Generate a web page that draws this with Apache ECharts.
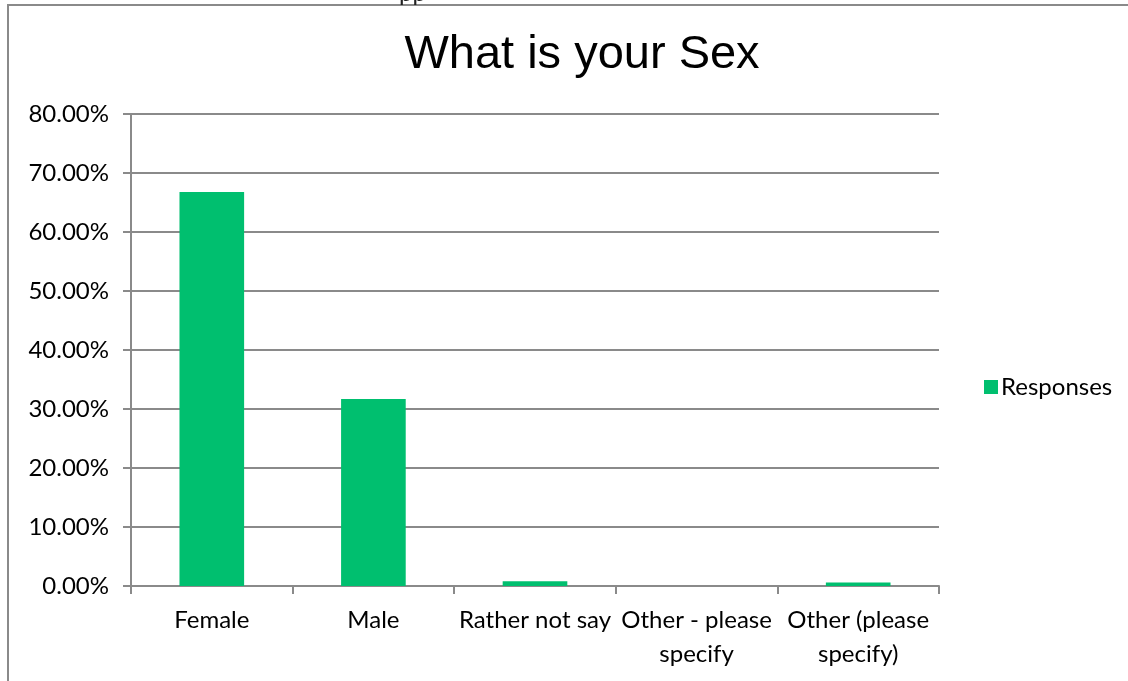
<!DOCTYPE html>
<html>
<head>
<meta charset="utf-8">
<script src="https://cdn.jsdelivr.net/npm/echarts@6/dist/echarts.min.js"></script>
<style>
html,body{margin:0;padding:0;background:#fff;}
#c{width:1128px;height:681px;}
</style>
</head>
<body>
<div id="c"></div>
<script>
const titleText = 'What is your Sex';
const seriesName = 'Responses';
const categories = ['Female', 'Male', 'Rather not say', 'Other - please specify', 'Other (please specify)'];
const values = [66.8, 31.7, 0.8, 0, 0.6];
const yTicks = { min: 0, max: 80, interval: 10 };

const chart = echarts.init(document.getElementById('c'), null, { renderer: 'canvas' });
const gray = '#8a8a8a';
const labelFont = 24;
chart.setOption({
  backgroundColor: '#fff',
  animation: false,
  title: {
    text: titleText,
    left: 577, top: 27, textAlign: 'center',
    textStyle: { fontFamily: 'Liberation Sans', fontSize: 47, fontWeight: 'normal', color: '#000' }
  },
  legend: {
    data: [seriesName],
    left: 979, top: 370,
    itemWidth: 14, itemHeight: 14, itemGap: 8,
    icon: 'rect',
    textStyle: { fontFamily: 'Lato', fontSize: labelFont, color: '#000', padding: [0, 0, 0, -2] }
  },
  graphic: [
    { type: 'rect', shape: { x: 8, y: 5, width: 1200, height: 800 }, style: { fill: 'none', stroke: gray, lineWidth: 2 }, silent: true },
    { type: 'text', left: 399, top: -19, style: { text: 'pp', font: '24px Lato', fill: '#222' }, silent: true }
  ],
  grid: { left: 131, right: 189, top: 114, bottom: 95, containLabel: false },
  xAxis: {
    type: 'category',
    data: categories,
    axisLine: { lineStyle: { color: gray, width: 2 } },
    axisTick: { show: true, length: 8, lineStyle: { color: gray, width: 2 } },
    axisLabel: {
      interval: 0, margin: 17, lineHeight: 34,
      fontFamily: 'Lato', fontSize: labelFont, color: '#000',
      formatter: v => v.replace(/ (specify)/, '\n$1')
    }
  },
  yAxis: {
    type: 'value',
    min: yTicks.min, max: yTicks.max, interval: yTicks.interval,
    axisLine: { show: true, lineStyle: { color: gray, width: 2 } },
    axisTick: { show: true, length: 8, lineStyle: { color: gray, width: 2 } },
    splitLine: { lineStyle: { color: gray, width: 2 } },
    axisLabel: {
      margin: 22, fontFamily: 'Lato', fontSize: labelFont, color: '#000',
      formatter: v => v.toFixed(2) + '%'
    }
  },
  series: [{
    name: seriesName,
    type: 'bar',
    data: values,
    barWidth: '40%',
    itemStyle: { color: '#00BF6F' }
  }]
});
</script>
</body>
</html>
